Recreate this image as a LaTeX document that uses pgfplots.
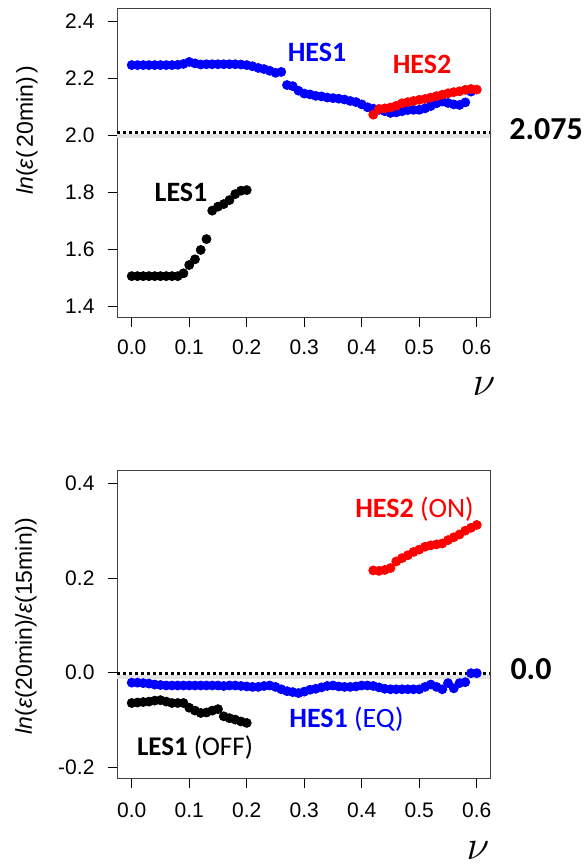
\documentclass[border=0pt]{standalone}
\usepackage{pgfplots}
\pgfplotsset{compat=1.18}
\usepackage{fontspec}
\setmainfont{Liberation Sans}
\newfontfamily\calib{Carlito}
\definecolor{rblue}{RGB}{0,0,255}
\definecolor{rred}{RGB}{255,0,0}
\pgfplotsset{
  rstyle/.style={
    scale only axis, width=186.5pt, anchor=south west,
    xmin=-0.0256, xmax=0.623,
    xtick={0,0.1,0.2,0.3,0.4,0.5,0.6},
    xticklabels={0.0,0.1,0.2,0.3,0.4,0.5,0.6},
    tick align=outside, tick pos=left, major tick length=4.75pt,
    tick style={black, line width=0.5pt},
    axis line style={black!75, line width=0.5pt},
    tick label style={font=\fontsize{10.5}{12}\selectfont},
    /pgf/number format/assume math mode=true,
    clip=false,
  },
  dots/.style={only marks, mark=*, mark size=2.25pt, mark options={line width=0.3pt}},
}
\begin{document}
\begin{tikzpicture}[x=1pt,y=1pt]
\path[use as bounding box] (0,0) rectangle (293,433);
% ---------- top panel ----------
\begin{axis}[rstyle, height=154.5pt, at={(58.5pt,274pt)},
  ymin=1.358, ymax=2.443,
  ytick={1.4,1.6,1.8,2.0,2.2,2.4},
  yticklabels={1.4,1.6,1.8,2.0,2.2,2.4},
  xticklabel style={yshift=-2.7pt},
  yticklabel style={xshift=-3pt}]
\addplot[gray!22, line width=2pt, forget plot] coordinates {(-0.0256,1.997) (0.623,1.997)};
\addplot[black, line width=1.5pt, dash pattern=on 1.5pt off 1.5pt, forget plot] coordinates {(-0.0256,2.009) (0.623,2.009)};
\addplot[dots, color=rblue, mark options={fill=rblue, draw=rblue}] coordinates {
(0.00,2.246)(0.01,2.246)(0.02,2.246)(0.03,2.246)(0.04,2.246)(0.05,2.246)(0.06,2.246)(0.07,2.246)(0.08,2.247)(0.09,2.250)
(0.10,2.257)(0.11,2.252)(0.12,2.248)(0.13,2.249)(0.14,2.249)(0.15,2.249)(0.16,2.249)(0.17,2.249)(0.18,2.249)(0.19,2.248)
(0.20,2.246)(0.21,2.242)(0.22,2.236)(0.23,2.232)(0.24,2.226)(0.25,2.219)(0.26,2.222)(0.27,2.176)(0.28,2.172)(0.29,2.156)
(0.30,2.146)(0.31,2.143)(0.32,2.138)(0.33,2.136)(0.34,2.132)(0.35,2.130)(0.36,2.128)(0.37,2.125)(0.38,2.120)(0.39,2.116)
(0.40,2.108)(0.41,2.098)(0.42,2.093)(0.43,2.089)(0.44,2.084)(0.45,2.078)(0.46,2.080)(0.47,2.084)(0.48,2.088)(0.49,2.089)
(0.50,2.089)(0.51,2.094)(0.52,2.102)(0.53,2.112)(0.54,2.118)(0.55,2.113)(0.56,2.108)(0.57,2.106)(0.58,2.115)(0.59,2.153)
};
\addplot[dots, color=black, mark options={fill=black, draw=black}] coordinates {
(0.00,1.505)(0.01,1.505)(0.02,1.505)(0.03,1.505)(0.04,1.505)(0.05,1.505)(0.06,1.505)(0.07,1.505)(0.08,1.505)(0.09,1.515)
(0.10,1.544)(0.11,1.564)(0.12,1.597)(0.13,1.635)(0.14,1.735)(0.15,1.749)(0.16,1.758)(0.17,1.772)(0.18,1.793)(0.19,1.805)(0.20,1.807)
};
\addplot[dots, color=rred, mark options={fill=rred, draw=rred}] coordinates {
(0.42,2.072)(0.43,2.092)(0.44,2.094)(0.45,2.097)(0.46,2.103)(0.47,2.112)(0.48,2.116)(0.49,2.120)(0.50,2.124)(0.51,2.127)
(0.52,2.132)(0.53,2.137)(0.54,2.142)(0.55,2.147)(0.56,2.151)(0.57,2.154)(0.58,2.159)(0.59,2.162)(0.60,2.160)
};
\end{axis}
% ---------- bottom panel ----------
\begin{axis}[rstyle, height=153.65pt, at={(58.5pt,43.85pt)},
  ymin=-0.223, ymax=0.426,
  ytick={-0.2,0.0,0.2,0.4},
  yticklabels={-0.2,0.0,0.2,0.4},
  xticklabel style={yshift=-3.9pt},
  yticklabel style={xshift=-3pt}]
\addplot[gray!22, line width=2pt, forget plot] coordinates {(-0.0256,-0.009) (0.623,-0.009)};
\addplot[black, line width=1.5pt, dash pattern=on 1.5pt off 1.5pt, forget plot] coordinates {(-0.0256,-0.001) (0.623,-0.001)};
\addplot[dots, color=rblue, mark options={fill=rblue, draw=rblue}] coordinates {
(0.00,-0.021)(0.01,-0.021)(0.02,-0.022)(0.03,-0.023)(0.04,-0.025)(0.05,-0.026)(0.06,-0.027)(0.07,-0.027)(0.08,-0.027)(0.09,-0.027)
(0.10,-0.027)(0.11,-0.027)(0.12,-0.027)(0.13,-0.027)(0.14,-0.027)(0.15,-0.027)(0.16,-0.028)(0.17,-0.027)(0.18,-0.027)(0.19,-0.028)
(0.20,-0.029)(0.21,-0.030)(0.22,-0.030)(0.23,-0.028)(0.24,-0.027)(0.25,-0.030)(0.26,-0.035)(0.27,-0.039)(0.28,-0.041)(0.29,-0.043)
(0.30,-0.040)(0.31,-0.036)(0.32,-0.034)(0.33,-0.031)(0.34,-0.028)(0.35,-0.027)(0.36,-0.029)(0.37,-0.030)(0.38,-0.030)(0.39,-0.029)
(0.40,-0.027)(0.41,-0.027)(0.42,-0.028)(0.43,-0.031)(0.44,-0.034)(0.45,-0.035)(0.46,-0.035)(0.47,-0.035)(0.48,-0.035)(0.49,-0.035)
(0.50,-0.035)(0.51,-0.030)(0.52,-0.025)(0.53,-0.030)(0.54,-0.035)(0.55,-0.022)(0.56,-0.033)(0.57,-0.022)(0.58,-0.020)(0.59,-0.001)(0.60,-0.001)
};
\addplot[dots, color=black, mark options={fill=black, draw=black}] coordinates {
(0.00,-0.064)(0.01,-0.063)(0.02,-0.062)(0.03,-0.061)(0.04,-0.059)(0.05,-0.058)(0.06,-0.061)(0.07,-0.064)(0.08,-0.064)(0.09,-0.064)
(0.10,-0.074)(0.11,-0.080)(0.12,-0.085)(0.13,-0.084)(0.14,-0.080)(0.15,-0.077)(0.16,-0.092)(0.17,-0.096)(0.18,-0.099)(0.19,-0.103)(0.20,-0.106)
};
\addplot[dots, color=rred, mark options={fill=rred, draw=rred}] coordinates {
(0.42,0.216)(0.43,0.215)(0.44,0.217)(0.45,0.221)(0.46,0.235)(0.47,0.242)(0.48,0.248)(0.49,0.255)(0.50,0.260)(0.51,0.266)
(0.52,0.269)(0.53,0.271)(0.54,0.273)(0.55,0.280)(0.56,0.286)(0.57,0.292)(0.58,0.300)(0.59,0.306)(0.60,0.312)
};
\end{axis}
% ---------- labels ----------
\node[anchor=base, text=rblue, font=\calib\bfseries\fontsize{14}{16}\selectfont] at (158.5,402.2) {HES1};
\node[anchor=base, text=rred, font=\calib\bfseries\fontsize{14}{16}\selectfont] at (211,396) {HES2};
\node[anchor=base, text=black, font=\calib\bfseries\fontsize{14}{16}\selectfont] at (90.5,332.2) {LES1};
\node[anchor=base, font=\calib\bfseries\fontsize{16}{18}\selectfont] at (273,363) {2.075};
\node[anchor=base, font=\calib\bfseries\fontsize{16}{18}\selectfont] at (265.5,93) {0.0};
\node[anchor=base, text=rred, font=\calib\fontsize{14}{16}\selectfont] at (207.25,174.3) {\textbf{HES2} (ON)};
\node[anchor=base, text=rblue, font=\calib\fontsize{14}{16}\selectfont] at (173.25,69.3) {\textbf{HES1} (EQ)};
\node[anchor=base, text=black, font=\calib\fontsize{13.5}{16}\selectfont] at (97.5,55) {\textbf{LES1} (OFF)};
\node[anchor=base, inner sep=0pt] at (242,235) {\fontsize{22}{24}\selectfont$\nu$};
\node[anchor=base, inner sep=0pt] at (239,3) {\fontsize{22}{24}\selectfont$\nu$};
\node[rotate=90, anchor=center, font=\fontsize{11.5}{13}\selectfont] at (13.5,368) {\textit{ln}(\textit{ε}(\,20min)\,)};
\node[rotate=90, anchor=center, font=\fontsize{11.5}{13}\selectfont] at (13,120) {\textit{ln}(\textit{ε}(20min)/\textit{ε}(15min))};
\end{tikzpicture}
\end{document}
